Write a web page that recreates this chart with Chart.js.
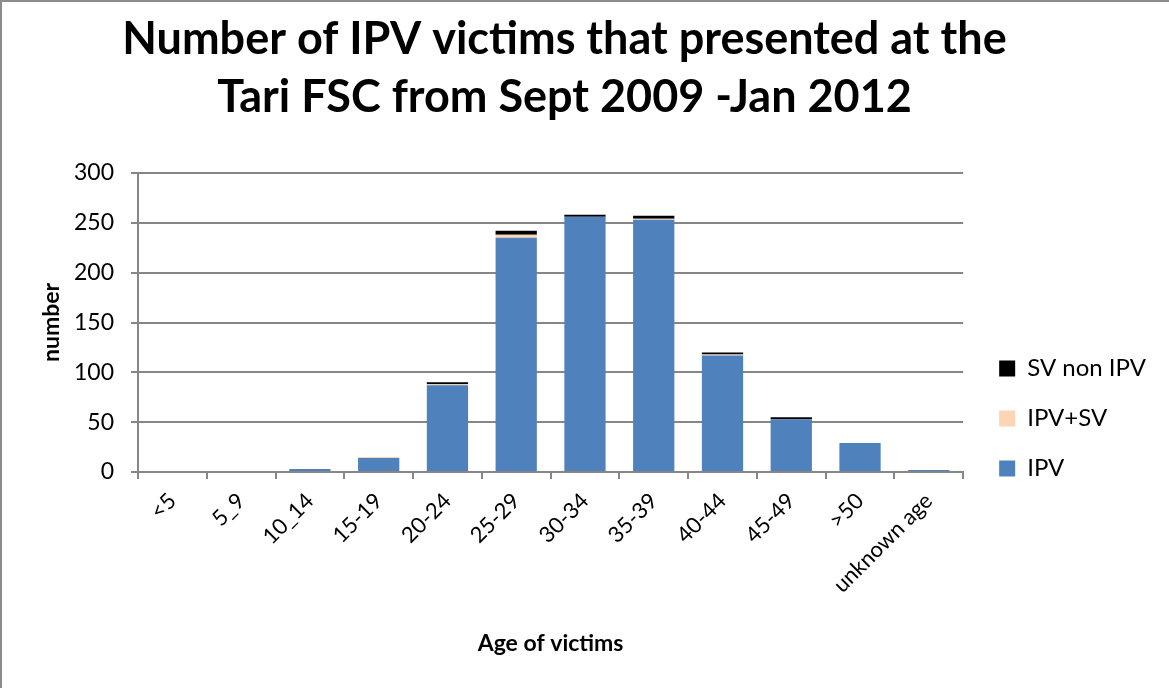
<!DOCTYPE html>
<html>
<head>
<meta charset="utf-8">
<script src="https://cdn.jsdelivr.net/npm/chart.js@4"></script>
<style>
html,body{margin:0;padding:0;background:#fff;}
#wrap{position:absolute;left:0;top:0;width:1167px;height:686px;border-top:2px solid #8c8c8c;border-left:2px solid #8c8c8c;}
</style>
</head>
<body>
<div id="wrap"><canvas id="c" width="1167" height="686"></canvas></div>
<script>
const categories = ["<5","5_9","10_14","15-19","20-24","25-29","30-34","35-39","40-44","45-49",">50","unknown age"];
const ipv       = [0,0,3,14,87,235,256,253,117,53,29,2];
const ipvSv     = [0,0,0,1,1,3,0,1,1,0,0,0];
const svNonIpv  = [0,0,0,0,2,4,2,3,2,2,0,0];
const yTicks = [0,50,100,150,200,250,300];

const FONT = "Lato, 'Open Sans', sans-serif";
const grid = '#868686';

const shiftPlugin = {
  id:'shiftBlocks',
  afterLayout(chart){
    const lg = chart.legend;
    if (lg){ lg.top += 83; lg.bottom += 83; lg.left += 10; lg.right += 10; }
    const t = chart.titleBlock;
    if (t){ t.left -= 18; t.right -= 18; }
  }
};

new Chart(document.getElementById('c'), {
  type: 'bar',
  data: {
    labels: categories,
    datasets: [
      {label:'IPV', data: ipv, backgroundColor:'#4F81BD', barPercentage:0.6, categoryPercentage:1},
      {label:'IPV+SV', data: ipvSv, backgroundColor:'#FBD5B5', barPercentage:0.6, categoryPercentage:1},
      {label:'SV non IPV', data: svNonIpv, backgroundColor:'#000000', barPercentage:0.6, categoryPercentage:1}
    ]
  },
  plugins:[shiftPlugin],
  options: {
    responsive:false,
    animation:false,
    layout:{padding:{left:17,right:23,top:8,bottom:27}},
    plugins:{
      title:{display:true, text:['Number of IPV victims that presented at the','Tari FSC from Sept 2009 -Jan 2012'],
        color:'#000', font:{family:FONT, size:45, weight:'bold', lineHeight:1.3}, padding:{top:0,bottom:46}},
      legend:{position:'right', reverse:true,
        labels:{color:'#000', font:{family:FONT,size:24}, boxWidth:16, boxHeight:16, padding:26}},
      tooltip:{enabled:false}
    },
    scales:{
      x:{stacked:true,
        afterFit:(s)=>{s.height = 686-27-470;},
        grid:{display:true, drawOnChartArea:false, offset:true, color:grid, lineWidth:2, tickLength:7},
        border:{color:grid, width:2},
        ticks:{color:'#000', font:{family:FONT,size:22}, minRotation:45, maxRotation:45, autoSkip:false, padding:9},
        title:{display:true, text:'Age of victims', color:'#000', font:{family:FONT,size:23,weight:'bold'}, padding:{top:0}}
      },
      y:{stacked:true, min:0, max:300,
        afterFit:(s)=>{s.width = 136-17;},
        afterBuildTicks:(s)=>{s.ticks = yTicks.map(v=>({value:v}));},
        grid:{color:grid, lineWidth:2, tickLength:7},
        border:{color:grid, width:2},
        ticks:{color:'#000', font:{family:FONT,size:23}, padding:17},
        title:{display:true, text:'number', color:'#000', font:{family:FONT,size:23,weight:'bold'}, padding:{top:19,bottom:4}}
      }
    }
  }
});
</script>
</body>
</html>
